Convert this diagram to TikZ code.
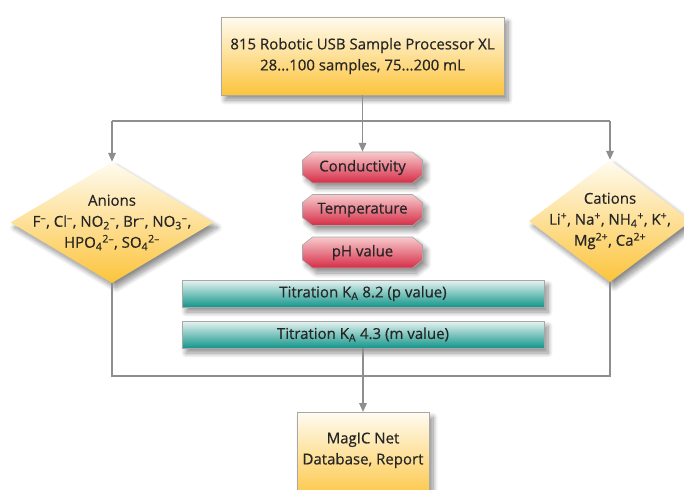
\documentclass[tikz,border=0pt]{standalone}
\usepackage{fontspec}
\setmainfont{Open Sans}[FakeBold=0.5]
\usetikzlibrary{arrows.meta,shapes.geometric,shadows.blur}
\definecolor{ytop}{HTML}{FFFBF0}
\definecolor{ybot}{HTML}{FCC43C}
\definecolor{rtop}{HTML}{F7CACC}
\definecolor{rbot}{HTML}{D62C46}
\definecolor{ttop}{HTML}{E8F3F2}
\definecolor{tbot}{HTML}{13968A}
\definecolor{bord}{HTML}{A8A8A8}
\definecolor{linec}{HTML}{8E8E8E}
\definecolor{txt}{HTML}{262626}
\newcommand{\mi}{\textsuperscript{–}}
\newcommand{\pl}{\textsuperscript{+}}
% octagon: name, x, y, text
\newcommand{\octo}[4]{%
  \path[shadowed, top color=rtop, bottom color=rbot, draw=bord, line width=0.6pt]
    (#2-50,#3-15.5) -- (#2+50,#3-15.5) -- (#2+60,#3-7.5) -- (#2+60,#3+7.5) --
    (#2+50,#3+15.5) -- (#2-50,#3+15.5) -- (#2-60,#3+7.5) -- (#2-60,#3-7.5) -- cycle;
  \node[rtext] (#1) at (#2,#3) {#4};}
\begin{document}
\begin{tikzpicture}[x=1pt,y=-1pt,
  font=\fontsize{15}{21}\selectfont,
  shadowed/.style={blur shadow={shadow xshift=4pt,shadow yshift=-5pt,shadow blur steps=10,shadow blur radius=5pt,shadow opacity=45}},
  ybox/.style={rectangle, draw=bord, line width=0.8pt, top color=ytop, bottom color=ybot, shadowed, align=center, inner sep=0pt, text=txt},
  ydia/.style={diamond, draw=none, top color=ytop, bottom color=ybot, shadowed, inner sep=0pt, text=txt},
  rtext/.style={rectangle, draw=none, fill=none, inner sep=0pt, minimum width=120pt, minimum height=31pt, text=txt},
  tbox/.style={rectangle, draw=bord, line width=0.6pt, top color=ttop, bottom color=tbot, shadowed, inner sep=0pt, minimum width=362pt, minimum height=27pt, text=txt},
  conn/.style={draw=linec, line width=1.8pt},
  tip/.style={-{Triangle[length=9pt,width=7.5pt]}}
]
\useasboundingbox (0,0) rectangle (684,489);
\node[ybox, minimum width=283pt, minimum height=78pt] (top) at (362.5,56) {815 Robotic USB Sample Processor XL\\28...100 samples, 75...200 mL};
\octo{cond}{362.5}{167.5}{Conductivity}
\octo{temp}{362.5}{210}{Temperature}
\octo{ph}{362.5}{252.5}{pH value}
\node[tbox] (t1) at (363,293.5) {Titration K\textsubscript{A} 8.2 (p value)};
\node[tbox] (t2) at (363,334.5) {Titration K\textsubscript{A} 4.3 (m value)};
\node[ydia, minimum width=203pt, minimum height=121pt, label={[align=center, text=txt]center:{Anions\\F\mi, Cl\mi, NO\textsubscript{2}\mi, Br\mi, NO\textsubscript{3}\mi,\\HPO\textsubscript{4}\textsuperscript{2–}, SO\textsubscript{4}\textsuperscript{2–}}}] (an) at (112,222.5) {};
\node[ydia, minimum width=162pt, minimum height=122pt, label={[align=center, text=txt]center:{Cations\\Li\pl, Na\pl, NH\textsubscript{4}\pl, K\pl,\\Mg\textsuperscript{2+}, Ca\textsuperscript{2+}}}] (cat) at (610,221) {};
\node[ybox, anchor=north, minimum width=132pt, minimum height=90pt, label={[below=17pt, align=center, text=txt]north:{MagIC Net\\Database, Report}}] (mag) at (363,412) {};
\coordinate (hl) at (112,121);
\coordinate (hr) at (610,121);
\coordinate (bl) at (112,376);
\coordinate (br) at (610,376);
\draw[conn, tip] (top.south) -- (cond.north);
\draw[conn] (hl) -- (hr);
\draw[conn, tip] (hl) -- (an.north);
\draw[conn, tip] (hr) -- (cat.north);
\draw[conn] (an.south) -- (bl) -- (br) -- (cat.south);
\draw[conn, tip] (t2.south) -- (mag.north);
\end{tikzpicture}
\end{document}
